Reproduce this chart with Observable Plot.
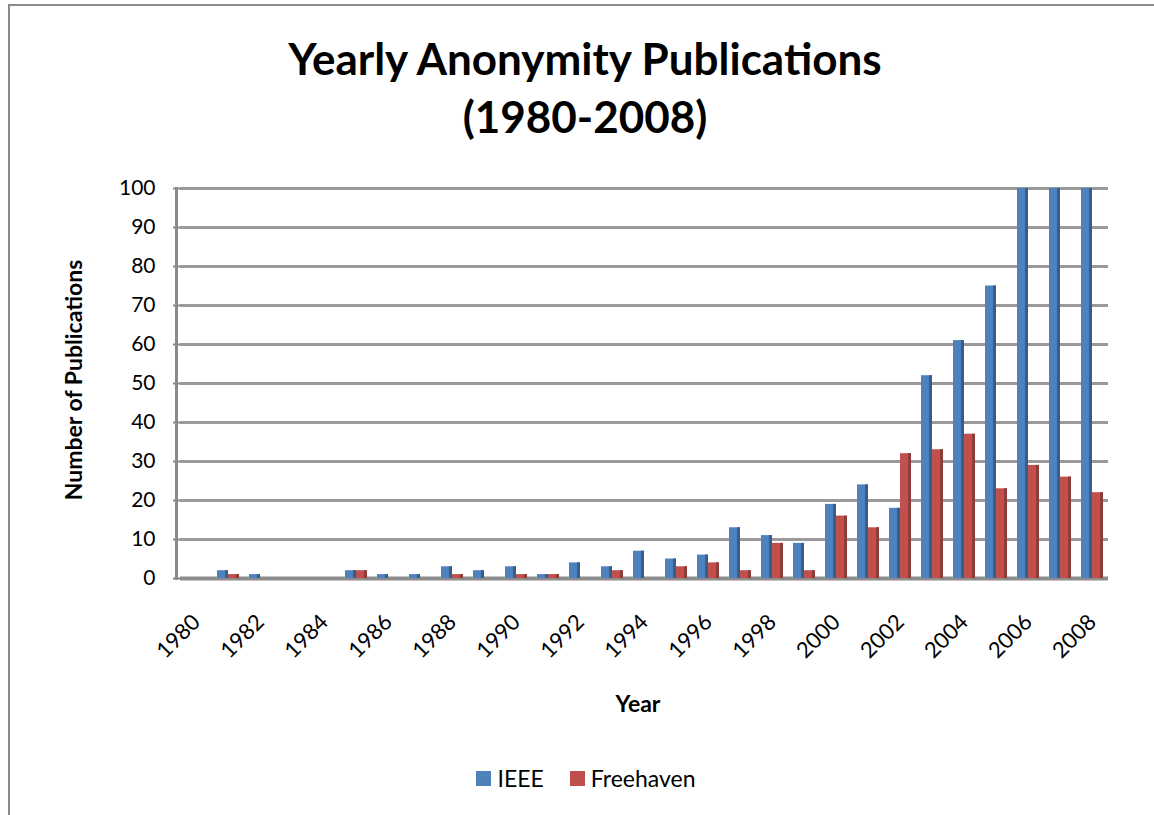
<!DOCTYPE html>
<html>
<head>
<meta charset="utf-8">
<script src="https://cdn.jsdelivr.net/npm/d3@7"></script>
<script src="https://cdn.jsdelivr.net/npm/@observablehq/plot@0.6"></script>
<style>
  html, body { margin: 0; padding: 0; background: #fff; }
  body { width: 1154px; height: 815px; position: relative; overflow: hidden; font-family: Lato, "Open Sans", sans-serif; color: #000; }
  #frame { position: absolute; left: 8px; top: 4px; width: 1200px; height: 900px; border: 2px solid #8a8a8a; box-sizing: border-box; }
  #title { position: absolute; left: 0; width: 1170px; top: 29px; text-align: center; font-weight: 700; font-size: 44px; line-height: 58px; }
  #chart { position: absolute; left: 0; top: 150px; }
  #ylabel { position: absolute; left: 73px; top: 380px; transform: translate(-50%, -50%) rotate(-90deg); font-weight: 700; font-size: 23px; white-space: nowrap; }
  #xlabel { position: absolute; left: 638px; top: 703px; transform: translate(-50%, -50%); font-weight: 700; font-size: 23px; }
  #legend { position: absolute; top: 764px; left: 0; width: 1172px; display: flex; justify-content: center; gap: 26px; font-size: 23px; }
  .item { display: flex; align-items: center; gap: 6px; }
  .sw { width: 15px; height: 15px; display: inline-block; }
</style>
</head>
<body>
<div id="frame"></div>
<div id="title">Yearly Anonymity Publications<br>(1980-2008)</div>
<div id="chart"></div>
<div id="ylabel">Number of Publications</div>
<div id="xlabel">Year</div>
<div id="legend"></div>
<script>
const years = [1980,1981,1982,1983,1984,1985,1986,1987,1988,1989,1990,1991,1992,1993,1994,1995,1996,1997,1998,1999,2000,2001,2002,2003,2004,2005,2006,2007,2008];
const ieee      = [0,2,1,0,0,2,1,1,3,2,3,1,4,3,7,5,6,13,11,9,19,24,18,52,61,75,100,100,100];
const freehaven = [0,1,0,0,0,2,0,0,1,0,1,1,0,2,0,3,4,2,9,2,16,13,32,33,37,23,29,26,22];
const series = ["IEEE", "Freehaven"];
const colors = ["#4F81BD", "#C0504D"];
const sideColors = ["#385D8A", "#8E3B39"];
const yTicks = [0,10,20,30,40,50,60,70,80,90,100];

const data = years.flatMap((yr, i) => [
  {year: yr, series: "IEEE", value: ieee[i]},
  {year: yr, series: "Freehaven", value: freehaven[i]}
]);

const barMarks = series.flatMap((s, i) => {
  const d = data.filter(r => r.series === s);
  return [
    Plot.barY(d, {fx: "year", x: "series", y: "value", fill: colors[i]}),
    Plot.barY(d, {fx: "year", x: "series", y: "value", fill: sideColors[i], insetLeft: 8})
  ];
});

const chart = Plot.plot({
  width: 1154,
  height: 570,
  marginLeft: 180,
  marginRight: 46,
  marginTop: 38,
  marginBottom: 142,
  style: {fontFamily: "Lato, 'Open Sans', sans-serif", fontSize: "21px", color: "#000", background: "transparent"},
  fx: {domain: years, padding: 0, label: null},
  x: {domain: series, paddingInner: 0, paddingOuter: 0.4, axis: null},
  y: {domain: [0, 100], label: null},
  marks: [
    Plot.ruleY(yTicks, {y: d => d, stroke: "#9a9a9a", strokeWidth: 3}),
    Plot.ruleY([0], {stroke: "#8c8c8c", strokeWidth: 4}),
    ...barMarks,
    Plot.axisY(yTicks, {tickSize: 7, tickPadding: 18, stroke: "#8a8a8a", strokeWidth: 2, fontSize: 21, label: null}),
    Plot.frame({anchor: "left", facetAnchor: "left", stroke: "#8a8a8a", strokeWidth: 3, dx: -4}),
    Plot.axisFx({anchor: "bottom", tickFormat: d => d % 2 === 0 ? String(d) : "", tickRotate: -45, tickSize: 0, tickPadding: 40, fontSize: 22, label: null})
  ]
});
document.getElementById("chart").appendChild(chart);

const legend = document.getElementById("legend");
series.forEach((s, i) => {
  const item = document.createElement("div");
  item.className = "item";
  const sw = document.createElement("span");
  sw.className = "sw";
  sw.style.background = colors[i];
  const t = document.createElement("span");
  t.textContent = s;
  item.appendChild(sw);
  item.appendChild(t);
  legend.appendChild(item);
});
</script>
</body>
</html>
